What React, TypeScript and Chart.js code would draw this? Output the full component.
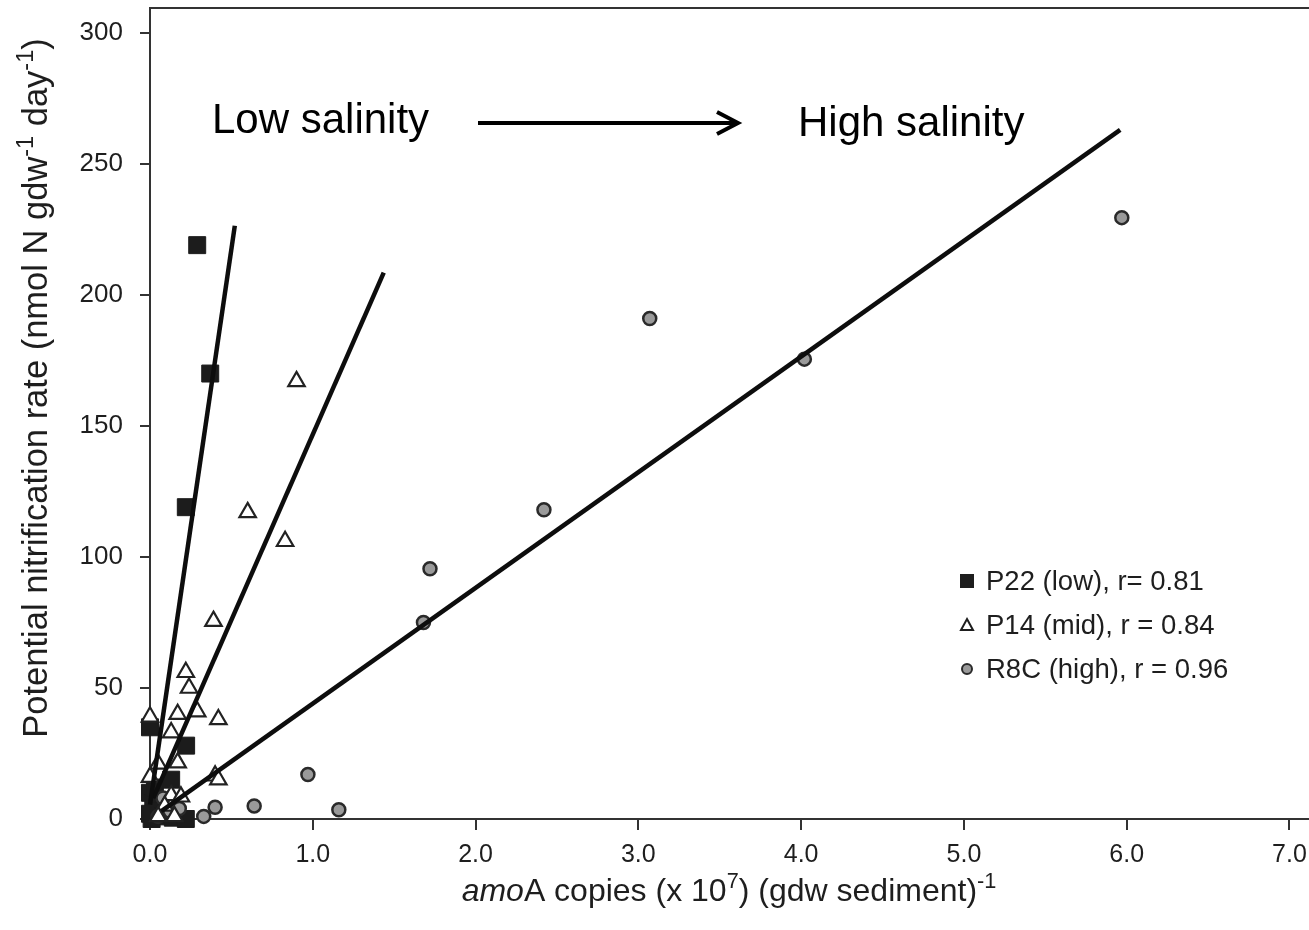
import React, { useEffect, useRef } from "react";
import { Chart, registerables } from "chart.js";
Chart.register(...registerables);

// ---------- data ----------
const p22X = [0.29, 0.37, 0.22, 0.222, 0.0, 0.13, 0.0, 0.02, 0.0, 0.05, 0.08, 0.14, 0.22, 0.03, 0.01];
const p22Y = [219, 170, 119, 28, 35, 15, 10, 6, 2, 3, 1, 0.5, 0, 12, 0];

const p14X = [0.9, 0.6, 0.83, 0.39, 0.22, 0.24, 0.0, 0.17, 0.29, 0.42, 0.13, 0.17, 0.0, 0.05, 0.4, 0.42, 0.13, 0.19, 0.09, 0.15, 0.05];
const p14Y = [167, 117, 106, 75.5, 56, 50, 39, 40, 41, 38, 33, 21.5, 16, 21, 16.5, 15, 9, 8.5, 5, 1, 1];

const r8cX = [5.97, 3.07, 4.02, 2.42, 1.72, 1.68, 0.97, 1.16, 0.64, 0.4, 0.33, 0.08, 0.12, 0.05, 0.18];
const r8cY = [229.5, 191, 175.5, 118, 95.5, 75, 17, 3.5, 5, 4.5, 1, 8, 3, 1, 4];

// regression lines (end points)
const p22LineX = [0.0, 0.521];
const p22LineY = [5.5, 226.4];
const p14LineX = [0.02, 1.436];
const p14LineY = [8, 208.5];
const r8cLineX = [0.07, 5.96];
const r8cLineY = [3, 263];

const legendLabels = ["P22 (low), r= 0.81", "P14 (mid), r = 0.84", "R8C (high), r = 0.96"];
const annotLow = "Low salinity";
const annotHigh = "High salinity";

const X_MIN = 0;
const X_MAX = 7.12;
const X_STEP = 1;
const Y_MIN = 0;
const Y_MAX = 309.5;
const Y_STEP = 50;

// ---------- styling ----------
const FONT = '"Liberation Sans", Arial, Helvetica, sans-serif';
const INK = "#1e1e1e";
const AXIS = "#333333";

type Seg = { t: string; it?: boolean; sup?: boolean };

const xTitle: Seg[] = [
  { t: "amo", it: true },
  { t: "A copies (x 10" },
  { t: "7", sup: true },
  { t: ") (gdw sediment)" },
  { t: "-1", sup: true },
];
const yTitle: Seg[] = [
  { t: "Potential nitrification rate (nmol N gdw" },
  { t: "-1", sup: true },
  { t: " day" },
  { t: "-1", sup: true },
  { t: ")" },
];

function segFont(s: Seg, size: number) {
  const sz = s.sup ? size * 0.68 : size;
  return `${s.it ? "italic " : ""}${sz}px ${FONT}`;
}

function drawRich(ctx: CanvasRenderingContext2D, segs: Seg[], x: number, y: number, size: number) {
  let w = 0;
  for (const s of segs) {
    ctx.font = segFont(s, size);
    w += ctx.measureText(s.t).width;
  }
  let cx = x - w / 2;
  ctx.textAlign = "left";
  ctx.textBaseline = "alphabetic";
  for (const s of segs) {
    ctx.font = segFont(s, size);
    ctx.fillText(s.t, cx, s.sup ? y - size * 0.42 : y);
    cx += ctx.measureText(s.t).width;
  }
}

const decorPlugin = {
  id: "decor",
  afterDraw(chart: any) {
    const ctx: CanvasRenderingContext2D = chart.ctx;
    const { left, right, top } = chart.chartArea;
    ctx.save();
    // top frame line
    ctx.strokeStyle = AXIS;
    ctx.lineWidth = 2;
    ctx.beginPath();
    ctx.moveTo(left, top);
    ctx.lineTo(right, top);
    ctx.stroke();

    ctx.fillStyle = INK;
    // axis titles
    drawRich(ctx, xTitle, 729, 901, 32);
    ctx.save();
    ctx.translate(47, 388);
    ctx.rotate(-Math.PI / 2);
    drawRich(ctx, yTitle, 0, 0, 34.5);
    ctx.restore();

    // annotations
    ctx.fillStyle = "#000";
    ctx.font = `42px ${FONT}`;
    ctx.textAlign = "left";
    ctx.textBaseline = "alphabetic";
    ctx.fillText(annotLow, 212, 133);
    ctx.fillText(annotHigh, 798, 136);
    ctx.strokeStyle = "#000";
    ctx.lineWidth = 4;
    ctx.beginPath();
    ctx.moveTo(478, 123);
    ctx.lineTo(737, 123);
    ctx.stroke();
    ctx.lineJoin = "miter";
    ctx.beginPath();
    ctx.moveTo(717, 112);
    ctx.lineTo(738, 123);
    ctx.lineTo(717, 134);
    ctx.stroke();

    // legend
    const lx = 967;
    const rows = [581, 625, 669];
    ctx.font = `27.5px ${FONT}`;
    ctx.textBaseline = "middle";
    ctx.fillStyle = INK;
    legendLabels.forEach((lab, i) => ctx.fillText(lab, 986, rows[i] + 1));
    // square
    ctx.fillStyle = INK;
    ctx.fillRect(lx - 7, rows[0] - 7, 14, 14);
    // triangle
    ctx.strokeStyle = INK;
    ctx.lineWidth = 2;
    ctx.beginPath();
    ctx.moveTo(lx, rows[1] - 6);
    ctx.lineTo(lx + 6, rows[1] + 5);
    ctx.lineTo(lx - 6, rows[1] + 5);
    ctx.closePath();
    ctx.stroke();
    // circle
    ctx.fillStyle = "#9a9a9a";
    ctx.strokeStyle = "#2a2a2a";
    ctx.lineWidth = 2;
    ctx.beginPath();
    ctx.arc(lx, rows[2], 5, 0, Math.PI * 2);
    ctx.fill();
    ctx.stroke();
    ctx.restore();
  },
};

const toPts = (xs: number[], ys: number[]) => xs.map((x, i) => ({ x, y: ys[i] }));

const zeroPad = (s: any) => {
  s.paddingTop = 0;
  s.paddingBottom = 0;
  s.paddingLeft = 0;
  s.paddingRight = 0;
};

export default function App() {
  const ref = useRef<HTMLCanvasElement | null>(null);
  useEffect(() => {
    if (!ref.current) return;
    const lineDs = (xs: number[], ys: number[]) => ({
      type: "line" as const,
      data: toPts(xs, ys),
      showLine: true,
      borderColor: "#0d0d0d",
      borderWidth: 4.5,
      pointRadius: 0,
      fill: false,
      clip: false,
    });
    const chart = new Chart(ref.current, {
      type: "scatter",
      data: {
        datasets: [
          lineDs(p22LineX, p22LineY),
          lineDs(p14LineX, p14LineY),
          lineDs(r8cLineX, r8cLineY),
          {
            data: toPts(p14X, p14Y),
            pointStyle: "triangle",
            pointRadius: 9.5,
            backgroundColor: "#ffffff",
            borderColor: "#222",
            borderWidth: 2.2,
            clip: false,
          },
          {
            data: toPts(r8cX, r8cY),
            pointStyle: "circle",
            pointRadius: 6.5,
            backgroundColor: "#9a9a9a",
            borderColor: "#2a2a2a",
            borderWidth: 2.5,
            clip: false,
          },
          {
            data: toPts(p22X, p22Y),
            pointStyle: "rect",
            pointRadius: 12,
            backgroundColor: "#1c1c1c",
            borderColor: "#1c1c1c",
            borderWidth: 1,
            clip: false,
          },
        ] as any,
      },
      options: {
        animation: false,
        responsive: false,
        maintainAspectRatio: false,
        layout: { autoPadding: false, padding: { top: 8, left: 0, right: 0, bottom: 0 } },
        plugins: { legend: { display: false }, tooltip: { enabled: false } },
        scales: {
          x: {
            type: "linear",
            min: X_MIN,
            max: X_MAX,
            afterFit: (s: any) => {
              s.height = 111;
              zeroPad(s);
            },
            ticks: {
              stepSize: X_STEP,
              includeBounds: false,
              color: INK,
              padding: 10,
              font: { family: FONT, size: 25 },
              callback: (v: any) => Number(v).toFixed(1),
              maxRotation: 0,
            },
            grid: { drawOnChartArea: false, drawTicks: true, tickLength: 11, color: AXIS, lineWidth: 2 },
            border: { display: true, color: AXIS, width: 2 },
          },
          y: {
            type: "linear",
            min: Y_MIN,
            max: Y_MAX,
            afterFit: (s: any) => {
              s.width = 150;
              zeroPad(s);
            },
            ticks: {
              stepSize: Y_STEP,
              includeBounds: false,
              color: INK,
              padding: 17,
              font: { family: FONT, size: 26 },
              callback: (v: any) => String(v),
            },
            grid: { drawOnChartArea: false, drawTicks: true, tickLength: 10, color: AXIS, lineWidth: 2 },
            border: { display: true, color: AXIS, width: 2 },
          },
        },
      },
      plugins: [decorPlugin],
    });
    return () => chart.destroy();
  }, []);
  return (
    <div style={{ position: "absolute", left: 0, top: 0, width: 1309, height: 930, background: "#fff" }}>
      <canvas ref={ref} width={1309} height={930} style={{ width: 1309, height: 930, display: "block" }} />
    </div>
  );
}
